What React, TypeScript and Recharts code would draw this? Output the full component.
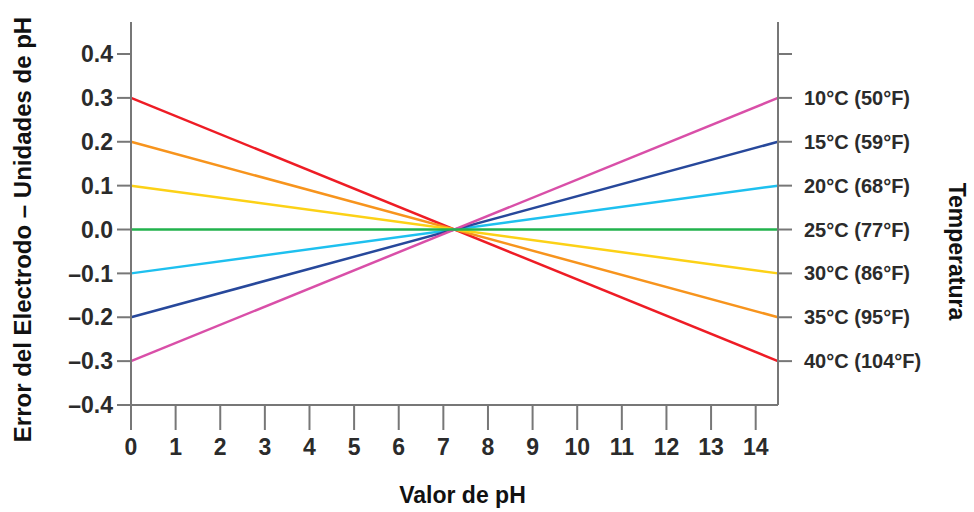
import { LineChart, Line, XAxis, YAxis, Label } from 'recharts';

const phValues = [0, 14.5];

const t10 = [-0.3, 0.3];
const t15 = [-0.2, 0.2];
const t20 = [-0.1, 0.1];
const t25 = [0, 0];
const t30 = [0.1, -0.1];
const t35 = [0.2, -0.2];
const t40 = [0.3, -0.3];

const xTicks = [0, 1, 2, 3, 4, 5, 6, 7, 8, 9, 10, 11, 12, 13, 14];
const leftTicks = [-0.4, -0.3, -0.2, -0.1, 0, 0.1, 0.2, 0.3, 0.4];
const leftTickLabels = ['–0.4', '–0.3', '–0.2', '–0.1', '0.0', '0.1', '0.2', '0.3', '0.4'];
const rightTicks = [0.4, 0.3, 0.2, 0.1, 0, -0.1, -0.2, -0.3];
const rightTickLabels = [
  '',
  '10°C (50°F)',
  '15°C (59°F)',
  '20°C (68°F)',
  '25°C (77°F)',
  '30°C (86°F)',
  '35°C (95°F)',
  '40°C (104°F)',
];

const data = phValues.map((ph, i) => ({
  ph,
  t10: t10[i],
  t15: t15[i],
  t20: t20[i],
  t25: t25[i],
  t30: t30[i],
  t35: t35[i],
  t40: t40[i],
}));

const FONT = '"Liberation Sans", Arial, sans-serif';
const AXIS = '#777';
const TEXT = '#2b2b2b';

// green one sits on the right axis so that axis gets its ticks (same domain)
const series = [
  { key: 't40', color: '#ee1c25', axis: 'left' },
  { key: 't35', color: '#f7941d', axis: 'left' },
  { key: 't30', color: '#fcd116', axis: 'left' },
  { key: 't20', color: '#1ec0ef', axis: 'left' },
  { key: 't15', color: '#27489b', axis: 'left' },
  { key: 't10', color: '#d94fa8', axis: 'left' },
  { key: 't25', color: '#22b24c', axis: 'right' },
];

const tickStyle = { fontFamily: FONT, fontWeight: 700, fill: TEXT };

function fmtLeft(v: number) {
  const i = leftTicks.findIndex((t) => Math.abs(t - v) < 1e-9);
  return i >= 0 ? leftTickLabels[i] : '';
}

function fmtRight(v: number) {
  const i = rightTicks.findIndex((t) => Math.abs(t - v) < 1e-9);
  return i >= 0 ? rightTickLabels[i] : '';
}

export default function App() {
  return (
    <div style={{ width: 974, height: 512 }}>
      <style>{'body{margin:0;background:#fff}'}</style>
      <LineChart width={974} height={512} data={data} margin={{ top: 22, right: 0, bottom: 0, left: 0 }}>
        <XAxis
          dataKey="ph"
          type="number"
          domain={[0, 14.5]}
          ticks={xTicks}
          interval={0}
          height={107}
          tickSize={25}
          tickMargin={9}
          stroke={AXIS}
          strokeWidth={2}
          tick={{ ...tickStyle, fontSize: 23 }}
        >
          <Label
            content={({ viewBox }: any) => (
              <text
                x={viewBox.x + viewBox.width / 2 + 8}
                y={viewBox.y + 98}
                textAnchor="middle"
                fontFamily={FONT}
                fontWeight={700}
                fontSize={23}
                fill="#111"
              >
                Valor de pH
              </text>
            )}
          />
        </XAxis>
        <YAxis
          yAxisId="left"
          type="number"
          domain={[-0.4, 0.473]}
          ticks={leftTicks}
          interval={0}
          width={131}
          tickSize={14}
          tickMargin={4}
          stroke={AXIS}
          strokeWidth={2}
          tick={{ ...tickStyle, fontSize: 23 }}
          tickFormatter={fmtLeft}
        >
          <Label
            content={({ viewBox }: any) => {
              const x = viewBox.x + 31;
              const y = viewBox.y + viewBox.height / 2 + 16;
              return (
                <text
                  x={x}
                  y={y}
                  transform={`rotate(-90 ${x} ${y})`}
                  textAnchor="middle"
                  fontFamily={FONT}
                  fontWeight={700}
                  fontSize={24}
                  fill="#111"
                >
                  Error del Electrodo – Unidades de pH
                </text>
              );
            }}
          />
        </YAxis>
        <YAxis
          yAxisId="right"
          orientation="right"
          type="number"
          domain={[-0.4, 0.473]}
          ticks={rightTicks}
          interval={0}
          width={196}
          tickSize={14}
          tickMargin={12}
          stroke={AXIS}
          strokeWidth={2}
          tick={{ ...tickStyle, fontSize: 20 }}
          tickFormatter={fmtRight}
        >
          <Label
            content={({ viewBox }: any) => {
              const x = viewBox.x + 171;
              const y = viewBox.y + viewBox.height / 2 + 38;
              return (
                <text
                  x={x}
                  y={y}
                  transform={`rotate(90 ${x} ${y})`}
                  textAnchor="middle"
                  fontFamily={FONT}
                  fontWeight={700}
                  fontSize={23}
                  fill="#111"
                >
                  Temperatura
                </text>
              );
            }}
          />
        </YAxis>
        {series.map((s) => (
          <Line
            key={s.key}
            yAxisId={s.axis}
            dataKey={s.key}
            type="linear"
            stroke={s.color}
            strokeWidth={2.5}
            dot={false}
            activeDot={false}
            isAnimationActive={false}
          />
        ))}
      </LineChart>
    </div>
  );
}
